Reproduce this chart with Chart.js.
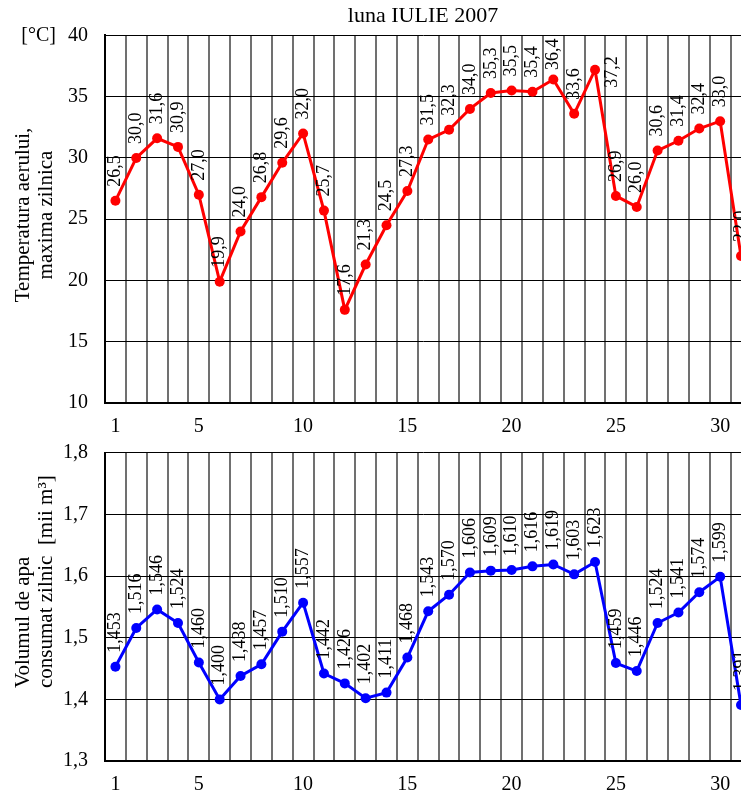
<!DOCTYPE html>
<html>
<head>
<meta charset="utf-8">
<script src="https://cdn.jsdelivr.net/npm/chart.js@4/dist/chart.umd.min.js"></script>
<style>
  html, body { margin: 0; padding: 0; background: #fff; overflow: hidden; }
  #wrap { position: relative; width: 741px; height: 796px; overflow: hidden; }
  canvas { position: absolute; left: 0; }
</style>
</head>
<body>
<div id="wrap">
  <canvas id="tempChart" width="741" height="440" style="top:0"></canvas>
  <canvas id="apaChart" width="741" height="374" style="top:424px"></canvas>
</div>
<script>
// zilele lunii iulie
var zile = [1, 2, 3, 4, 5, 6, 7, 8, 9, 10, 11, 12, 13, 14, 15, 16, 17, 18, 19, 20, 21, 22, 23, 24, 25, 26, 27, 28, 29, 30, 31];
// temperatura maxima zilnica [°C]
var temperatura = [26.5, 30.0, 31.6, 30.9, 27.0, 19.9, 24.0, 26.8, 29.6, 32.0, 25.7, 17.6, 21.3, 24.5, 27.3, 31.5,
    32.3, 34.0, 35.3, 35.5, 35.4, 36.4, 33.6, 37.2, 26.9, 26.0, 30.6, 31.4, 32.4, 33.0, 22.0];
// volumul de apa consumat zilnic [mii m3]
var volumApa = [1.453, 1.516, 1.546, 1.524, 1.460, 1.400, 1.438, 1.457, 1.510, 1.557, 1.442, 1.426, 1.402, 1.411, 1.468,
    1.543, 1.570, 1.606, 1.609, 1.610, 1.616, 1.619, 1.603, 1.623, 1.459, 1.446, 1.524, 1.541, 1.574, 1.599, 1.391];
// etichete pe axa x
var zileEtichete = [1, 5, 10, 15, 20, 25, 30];
// linii verticale de grila (intre zile)
var liniiGrila = [0.5, 1.5, 2.5, 3.5, 4.5, 5.5, 6.5, 7.5, 8.5, 9.5, 10.5, 11.5, 12.5, 13.5, 14.5, 15.5,
    16.5, 17.5, 18.5, 19.5, 20.5, 21.5, 22.5, 23.5, 24.5, 25.5, 26.5, 27.5, 28.5, 29.5, 30.5];

var FONT = "'Liberation Serif', 'DejaVu Serif', serif";

function virgula(v, dec) {
    return v.toFixed(dec).replace('.', ',');
}

// etichete verticale deasupra punctelor
function pluginValori(dec) {
    return {
        id: 'valori',
        afterDatasetsDraw: function (chart) {
            var ctx = chart.ctx;
            var meta = chart.getDatasetMeta(0);
            var valori = chart.data.datasets[0].data;
            var sus = chart.chartArea.top + 3;
            ctx.save();
            ctx.font = '18px ' + FONT;
            ctx.fillStyle = '#000';
            ctx.textBaseline = 'middle';
            ctx.textAlign = 'left';
            meta.data.forEach(function (pt, i) {
                var text = virgula(valori[i].y, dec);
                var w = ctx.measureText(text).width;
                var x = pt.x;
                var start = pt.y - 14;
                if (start - w < sus) {
                    start = sus + w;
                    // nu incape deasupra -> langa punct
                    if (start > pt.y - 5) {
                        x = pt.x + 17;
                        start = pt.y + 18;
                    }
                }
                ctx.save();
                ctx.translate(x, start);
                ctx.rotate(-Math.PI / 2);
                ctx.fillText(text, 0, 0);
                ctx.restore();
            });
            ctx.restore();
        }
    };
}

function pluginTitluAxa(linii, cx, cy, aliniere, unitate) {
    return {
        id: 'titluAxa',
        afterDraw: function (chart) {
            var ctx = chart.ctx;
            ctx.save();
            ctx.font = '21px ' + FONT;
            ctx.fillStyle = '#000';
            ctx.textBaseline = 'middle';
            ctx.textAlign = aliniere;
            linii.forEach(function (t, i) {
                ctx.save();
                ctx.translate(cx[i], cy);
                ctx.rotate(-Math.PI / 2);
                ctx.fillText(t, 0, 0);
                ctx.restore();
            });
            if (unitate) {
                ctx.font = '20px ' + FONT;
                ctx.textAlign = 'right';
                ctx.fillText(unitate, 56, chart.chartArea.top);
            }
            ctx.restore();
        }
    };
}

function scaleX(gridColor) {
    return {
        x: {
            type: 'linear',
            position: 'bottom',
            min: 0.5,
            max: 31,
            afterBuildTicks: function (s) {
                s.ticks = liniiGrila.map(function (v) { return { value: v }; });
            },
            ticks: { display: false },
            grid: { color: gridColor, lineWidth: 2, drawTicks: false },
            border: { display: true, color: '#000', width: 2 }
        },
        xLab: {
            type: 'linear',
            position: 'bottom',
            min: 0.5,
            max: 31,
            afterBuildTicks: function (s) {
                s.ticks = zileEtichete.map(function (v) { return { value: v }; });
            },
            afterFit: function (s) { s.height = 37; },
            ticks: {
                autoSkip: false,
                maxRotation: 0,
                padding: 4,
                color: '#000',
                font: { family: FONT, size: 20 },
                callback: function (v) { return v; }
            },
            grid: { display: false },
            border: { display: false }
        }
    };
}

function setY(min, max, step, dec) {
    return {
        min: min,
        max: max,
        afterBuildTicks: function (s) {
            var t = [];
            for (var v = min; v <= max + 1e-9; v += step) t.push({ value: v });
            s.ticks = t;
        },
        afterFit: function (s) { s.width = 105; },
        ticks: {
            padding: 17,
            color: '#000',
            font: { family: FONT, size: 20 },
            callback: function (v) { return virgula(v, dec); }
        },
        grid: { color: '#000', lineWidth: 1, drawTicks: false },
        border: { display: true, color: '#000', width: 2 }
    };
}

var ctxTemp = document.getElementById('tempChart').getContext('2d');
var scalesTemp = scaleX('#707070');
scalesTemp.y = setY(10, 40, 5, 0);
var chartTemp = new Chart(ctxTemp, {
    type: 'line',
    data: {
        datasets: [{
            label: 'Temperatura',
            data: zile.map(function (z, i) { return { x: z, y: temperatura[i] }; }),
            borderColor: '#ff0000',
            backgroundColor: '#ff0000',
            borderWidth: 3,
            pointRadius: 5,
            pointBorderWidth: 0,
            pointBackgroundColor: '#ff0000',
            tension: 0,
            clip: false
        }]
    },
    options: {
        responsive: false,
        animation: false,
        devicePixelRatio: 1,
        layout: { padding: 0, autoPadding: false },
        plugins: {
            legend: { display: false },
            tooltip: { enabled: false },
            title: {
                display: true,
                fullSize: false,
                text: 'luna IULIE 2007',
                color: '#000',
                font: { family: FONT, size: 22, weight: 'normal', lineHeight: 1.2 },
                padding: { top: 3, bottom: 6 }
            }
        },
        scales: scalesTemp
    },
    plugins: [pluginValori(1), pluginTitluAxa(['Temperatura aerului,', 'maxima zilnica'], [23, 46], 215, 'center', '[°C]')]
});

var ctxApa = document.getElementById('apaChart').getContext('2d');
var scalesApa = scaleX('#707070');
scalesApa.y = setY(1.3, 1.8, 0.1, 1);
var chartApa = new Chart(ctxApa, {
    type: 'line',
    data: {
        datasets: [{
            label: 'Volum apa',
            data: zile.map(function (z, i) { return { x: z, y: volumApa[i] }; }),
            borderColor: '#0000ff',
            backgroundColor: '#0000ff',
            borderWidth: 3,
            pointRadius: 5,
            pointBorderWidth: 0,
            pointBackgroundColor: '#0000ff',
            tension: 0,
            clip: false
        }]
    },
    options: {
        responsive: false,
        animation: false,
        devicePixelRatio: 1,
        layout: { padding: { left: 0, right: 0, top: 12, bottom: 0 }, autoPadding: false },
        plugins: {
            legend: { display: false },
            tooltip: { enabled: false }
        },
        scales: scalesApa
    },
    plugins: [pluginValori(3), pluginTitluAxa(['Volumul de apa', 'consumat zilnic  [mii m³]'], [23, 46], 264, 'left', null)]
});
</script>
</body>
</html>
